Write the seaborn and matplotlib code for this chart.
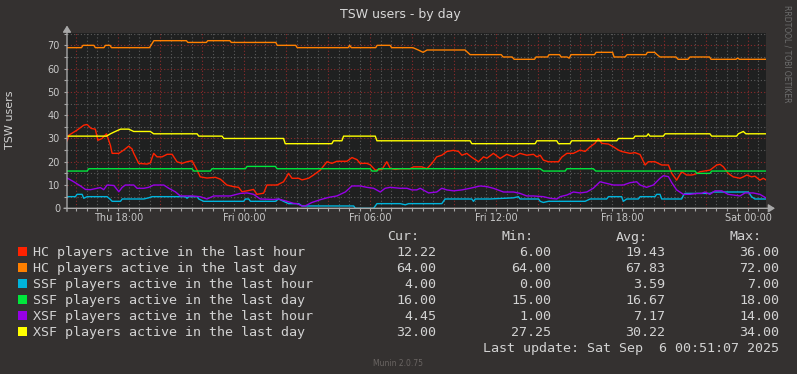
import pandas as pd
import matplotlib
matplotlib.use("Agg")
import matplotlib.pyplot as plt
import seaborn as sns
from matplotlib.patches import Rectangle
from matplotlib.ticker import MultipleLocator, FuncFormatter

# Munin "TSW users - by day", time in hours since Thu 00:00
labels = [
    "HC players active in the last hour",
    "HC players active in the last day",
    "SSF players active in the last hour",
    "SSF players active in the last day",
    "XSF players active in the last hour",
    "XSF players active in the last day",
]
colors = ["#ff2200", "#ff8000", "#00b4dc", "#00e63c", "#9600e6", "#ffff00"]

hc_hour = [
    (15.56, 29), (15.64, 31.4), (16.03, 33.6), (16.35, 35.7), (16.51, 36), (16.70, 34.3),
    (16.90, 34), (17.02, 29.2), (17.22, 30), (17.43, 32), (17.62, 27), (17.70, 23.6),
    (18.02, 23.6), (18.25, 25), (18.49, 26.7), (18.65, 25.5), (18.73, 23.6), (18.97, 19.3),
    (19.37, 19), (19.52, 19.5), (19.68, 23.6), (19.84, 22.1), (20.08, 22.1), (20.32, 23.2),
    (20.56, 23.2), (20.79, 20), (21.03, 19.3), (21.27, 20), (21.51, 20.4), (21.75, 16.4),
    (21.90, 13.5), (22.22, 13), (22.62, 13.3), (22.86, 12.5), (23.17, 10), (23.49, 9.3),
    (23.73, 9), (23.89, 7.1), (24.13, 7.5), (24.44, 8.1), (24.60, 6), (24.92, 6.5),
    (25.08, 10), (25.56, 10), (25.87, 11.4), (26.11, 15), (26.27, 12.9), (26.59, 12.9),
    (26.75, 12.2), (27.06, 12.9), (27.30, 14.3), (27.62, 16.4), (27.94, 20), (28.17, 19.3),
    (28.41, 20.2), (28.89, 20.2), (29.13, 21.8), (29.37, 20.9), (29.52, 19.3), (29.84, 19.3),
    (30.00, 18.7), (30.24, 16.4), (30.56, 16.7), (30.79, 20), (30.95, 17.2), (31.19, 16.7),
    (31.43, 17), (31.90, 17), (32.06, 17.8), (32.46, 17.8), (32.70, 17), (32.94, 19.3),
    (33.17, 22.1), (33.41, 22.8), (33.65, 24.4), (33.97, 24.9), (34.21, 24.4), (34.37, 22.8),
    (34.60, 23.6), (34.84, 21.9), (35.16, 20), (35.40, 22.1), (35.56, 21.5), (35.87, 23.6),
    (36.19, 21.4), (36.51, 23.2), (36.83, 22.1), (37.14, 23.6), (37.46, 22.8), (37.78, 23.2),
    (37.94, 22.1), (38.10, 22.8), (38.25, 20.7), (38.49, 20), (38.97, 20), (39.13, 22),
    (39.37, 23.6), (39.68, 23.6), (40.00, 25), (40.24, 24.4), (40.48, 26.4), (40.71, 27.9),
    (40.87, 30), (41.03, 27.9), (41.35, 27.6), (41.59, 26.4), (41.83, 25), (41.98, 24.4),
    (42.38, 23.6), (42.62, 23.9), (42.86, 23.1), (43.10, 18.6), (43.25, 20), (43.57, 20),
    (43.89, 18.6), (44.21, 18.6), (44.37, 15), (44.60, 12.1), (44.84, 15.7), (45.08, 14.3),
    (45.32, 14.3), (45.48, 14.6), (45.71, 15.7), (46.19, 16.4), (46.51, 18.6), (46.67, 18.9),
    (46.83, 17.8), (47.06, 15), (47.30, 13.5), (47.62, 12.9), (47.78, 13.5), (47.94, 14.3),
    (48.17, 13.5), (48.33, 13.8), (48.57, 12.1), (48.73, 12.9), (48.86, 12.2),
]

hc_day = [
    (15.56, 69), (16.24, 69), (16.31, 70), (16.83, 70), (16.90, 69), (17.31, 69), (17.38, 70),
    (17.60, 70), (17.67, 69), (19.48, 69), (19.69, 72), (21.24, 72), (21.31, 71.25),
    (22.19, 71.25), (22.26, 72), (23.31, 72), (23.38, 71.25), (25.50, 71.25), (25.57, 70),
    (26.45, 70), (26.52, 69), (28.95, 69), (29.02, 70), (29.10, 69), (30.26, 69), (30.33, 70),
    (30.95, 70), (31.02, 69), (32.03, 69), (32.29, 68), (32.52, 67), (32.71, 68), (34.52, 68),
    (34.76, 66), (36.24, 66), (36.33, 65), (36.76, 65), (36.86, 64), (37.83, 64), (37.90, 65),
    (38.45, 65), (38.52, 66), (39.02, 66), (39.10, 65), (39.38, 65), (39.48, 64.5), (39.57, 66),
    (40.69, 66), (40.76, 67), (41.55, 67), (41.62, 65), (42.14, 65), (42.24, 66), (43.14, 66),
    (43.21, 67), (43.55, 67), (43.67, 66), (43.81, 65), (44.57, 65), (44.67, 64), (45.14, 64),
    (45.24, 65), (46.17, 65), (46.24, 64), (47.43, 64), (47.50, 64.5), (47.60, 64), (48.86, 64),
]

ssf_hour = [
    (15.56, 5), (15.95, 5), (16.03, 6), (16.27, 6), (16.35, 4.3), (16.51, 5), (17.46, 5),
    (17.62, 3.8), (17.70, 3), (18.10, 3), (18.18, 4), (19.21, 4), (19.44, 4.5), (19.60, 5),
    (21.19, 5), (21.27, 4.3), (21.35, 5), (21.75, 5), (21.83, 4), (22.06, 3), (23.97, 3),
    (24.05, 4), (24.21, 4), (24.29, 3), (25.48, 3), (25.63, 4), (25.87, 3), (26.11, 2),
    (26.59, 2), (26.75, 1), (29.21, 1), (29.29, 0), (30.16, 0), (30.32, 2), (31.43, 2),
    (31.67, 1.5), (31.83, 2), (33.41, 2), (33.57, 4), (34.84, 4), (34.92, 3), (35.00, 4),
    (35.71, 4), (36.83, 4.5), (37.06, 5), (37.14, 4), (38.02, 4), (38.10, 3), (38.25, 2.5),
    (38.49, 3), (40.24, 3), (40.48, 4), (41.27, 4), (41.35, 5), (41.98, 5), (42.06, 3),
    (42.22, 4), (42.78, 4), (42.86, 5), (43.57, 5), (43.65, 6), (43.81, 6), (43.89, 4),
    (44.84, 4), (44.92, 5.5), (45.00, 6.4), (46.19, 6.4), (46.35, 7), (48.02, 7), (48.17, 5),
    (48.33, 4), (48.86, 4),
]

ssf_day = [
    (15.56, 16), (16.51, 16), (16.59, 17), (21.51, 17), (21.59, 16), (22.38, 16), (22.46, 17),
    (24.05, 17), (24.13, 18), (25.48, 18), (25.56, 17), (30.00, 17), (30.08, 16), (30.32, 16),
    (30.40, 17), (38.10, 17), (38.25, 16), (39.29, 16), (39.37, 17), (40.63, 17), (40.75, 16),
    (45.48, 16), (45.56, 15), (46.19, 15), (46.27, 16), (48.86, 16),
]

xsf_hour = [
    (15.56, 13), (15.87, 11.4), (16.19, 9.6), (16.43, 8.1), (16.67, 8), (17.14, 8.9),
    (17.30, 8), (17.46, 10), (17.78, 9.8), (18.02, 7.1), (18.18, 9), (18.33, 10), (18.73, 10),
    (18.89, 8.6), (19.21, 8.6), (19.44, 9), (19.68, 10), (20.16, 10), (20.40, 8.6), (20.71, 7.1),
    (20.95, 5.3), (21.51, 5.3), (21.90, 5), (22.22, 4), (22.54, 5.3), (23.33, 5.3), (23.81, 6.4),
    (24.13, 6.6), (24.44, 6), (24.76, 4), (25.40, 3.8), (25.63, 4), (26.03, 3), (26.35, 2.1),
    (26.51, 2), (26.75, 1), (26.90, 1), (27.22, 2.5), (27.62, 3.7), (28.02, 4.7), (28.41, 5.3),
    (28.81, 7), (29.13, 9.6), (29.52, 9.6), (29.84, 9), (30.16, 8.6), (30.48, 7), (30.71, 8.6),
    (30.95, 9), (31.43, 8.6), (31.75, 8.6), (31.98, 7.9), (32.22, 7.9), (32.38, 8.6),
    (32.78, 6.6), (33.17, 7), (33.41, 8.6), (33.65, 7.9), (33.97, 7.5), (34.37, 7.9),
    (34.76, 8.6), (35.24, 9.6), (35.56, 9.3), (35.87, 8.6), (36.35, 7), (36.83, 7), (37.14, 6.4),
    (37.46, 5.3), (37.78, 5.3), (38.25, 5), (38.57, 4.3), (38.89, 4), (39.05, 5), (39.37, 5.7),
    (39.68, 7), (40.00, 6.6), (40.32, 7), (40.63, 8.6), (40.95, 11.4), (41.27, 10.7),
    (41.59, 10), (42.06, 10), (42.38, 11), (42.70, 11.4), (42.86, 10), (43.17, 9), (43.49, 10),
    (43.81, 12.9), (43.97, 14), (44.21, 13.6), (44.37, 11), (44.60, 7.9), (44.92, 6),
    (45.24, 6), (45.56, 6.4), (45.79, 6.4), (45.95, 7), (46.19, 6), (46.43, 7.5), (46.75, 7.5),
    (47.06, 6), (47.62, 5.3), (47.86, 6.6), (48.25, 6.6), (48.57, 6), (48.86, 4.45),
]

xsf_day = [
    (15.56, 31), (17.43, 31), (17.62, 32), (17.78, 32.7), (18.10, 34), (18.49, 34), (18.73, 33),
    (19.52, 33), (19.68, 32), (21.75, 32), (21.83, 31), (22.94, 31), (23.02, 30), (25.87, 30),
    (25.95, 27.75), (28.17, 27.75), (28.25, 29), (28.65, 29), (28.73, 31), (30.24, 31),
    (30.32, 29), (34.76, 29), (34.84, 27.75), (37.86, 27.75), (37.94, 29), (38.89, 29),
    (38.97, 27.75), (39.52, 27.75), (39.60, 29), (41.75, 29), (41.83, 30), (42.54, 30),
    (42.62, 31), (43.17, 31), (43.25, 32), (43.33, 31), (43.97, 31), (44.05, 32), (46.19, 32),
    (46.27, 31), (47.46, 31), (47.54, 32), (47.78, 33), (47.90, 32), (48.86, 32),
]

series = [hc_hour, hc_day, ssf_hour, ssf_day, xsf_hour, xsf_day]

cur = ["12.22", "64.00", "4.00", "16.00", "4.45", "32.00"]
mins = ["6.00", "64.00", "0.00", "15.00", "1.00", "27.25"]
avgs = ["19.43", "67.83", "3.59", "16.67", "7.17", "30.22"]
maxs = ["36.00", "72.00", "7.00", "18.00", "14.00", "34.00"]

days = ["Thu", "Fri", "Sat"]

frames = []
for name, pts in zip(labels, series):
    t, v = zip(*pts)
    frames.append(pd.DataFrame({"t": t, "v": v, "series": name}))
df = pd.concat(frames, ignore_index=True)

W, H = 797, 374
fig_bg = "#343130"
txt = "#d2d2d2"
axis_c = "#a8a8a8"

fig = plt.figure(figsize=(W / 100, H / 100), dpi=100, facecolor=fig_bg)
ax = fig.add_axes([67 / W, 1 - 208.3 / H, 699 / W, 175.3 / H])
ax.set_facecolor("#1f2020")

sns.lineplot(data=df, x="t", y="v", hue="series", hue_order=labels, palette=colors,
             estimator=None, sort=False, legend=False, linewidth=1.0, ax=ax)

ax.set_xlim(15.55, 48.86)
ax.set_ylim(0, 75.3)
ax.set_xlabel("")
ax.set_ylabel("")

ax.xaxis.set_major_locator(MultipleLocator(2))
ax.xaxis.set_minor_locator(MultipleLocator(0.5))
ax.yaxis.set_major_locator(MultipleLocator(10))
ax.yaxis.set_minor_locator(MultipleLocator(5))


def fmt_time(h, pos):
    if round(h) % 6 != 0:
        return ""
    return f"{days[int(h // 24)]} {int(h % 24):02d}:00"


ax.xaxis.set_major_formatter(FuncFormatter(fmt_time))
ax.set_axisbelow(True)
ax.grid(which="major", color="#8c2a2a", linestyle=(0, (1, 2)), linewidth=0.8)
ax.grid(which="minor", color="#5a5a5a", linestyle=(0, (1, 2)), linewidth=0.8)

ax.tick_params(which="both", colors=axis_c, labelcolor="#c8c8c8", labelsize=7,
               length=2, width=0.8)
ax.tick_params(axis="x", pad=1.5)
ax.tick_params(axis="y", pad=3)
for s in ["top", "right", "left", "bottom"]:
    ax.spines[s].set_visible(False)

# axis lines with arrow heads
arrow = dict(arrowstyle="-|>,head_length=0.55,head_width=0.35", color=axis_c, lw=1,
             shrinkA=0, shrinkB=0, mutation_scale=7)
ax.annotate("", xy=(0, (208.3 - 25.5) / 175.3), xytext=(0, -3 / 175.3),
            xycoords="axes fraction", arrowprops=arrow, annotation_clip=False)
ax.annotate("", xy=((775 - 67) / 699, 0), xytext=(-3 / 699, 0),
            xycoords="axes fraction", arrowprops=arrow, annotation_clip=False)

fig.text(400 / W, 1 - 18.3 / H, "TSW users - by day", ha="center", va="baseline",
         fontsize=9, color="#d8d8d8")
fig.text(10.5 / W, 1 - 120 / H, "TSW users", rotation=90, ha="center", va="center",
         fontsize=8, color=txt)
fig.text(787 / W, 1 - 5 / H, "RRDTOOL / TOBI OETIKER", rotation=270, ha="center",
         va="top", fontsize=5.5, color="#6e6e6e")
fig.text(398 / W, 1 - 363 / H, "Munin 2.0.75", ha="center", va="center",
         fontsize=5.5, color="#6a6563")

# legend table
mono = "DejaVu Sans Mono"
fs = 9.6
hdr_y = 240.5
for x, h in zip([387, 502, 616, 729], ["Cur:", "Min:", "Avg:", "Max:"]):
    fig.text(x / W, 1 - hdr_y / H, h, family=mono, fontsize=fs, color=txt, va="baseline")

for i, name in enumerate(labels):
    row = 251.5 + 16 * i
    fig.patches.append(Rectangle((18 / W, 1 - (row + 4.5) / H), 9 / W, 9 / H,
                                 transform=fig.transFigure, facecolor=colors[i],
                                 edgecolor="none"))
    base = 1 - (row + 4.8) / H
    fig.text(33 / W, base, name, family=mono, fontsize=fs, color=txt, va="baseline")
    for x, col in zip([436, 551, 665, 779], [cur, mins, avgs, maxs]):
        fig.text(x / W, base, col[i], family=mono, fontsize=fs, color=txt,
                 va="baseline", ha="right")

fig.text(779 / W, 1 - 352 / H, "Last update: Sat Sep  6 00:51:07 2025", family=mono,
         fontsize=fs, color=txt, va="baseline", ha="right")

fig.savefig("out.png", dpi=100, facecolor=fig_bg)
